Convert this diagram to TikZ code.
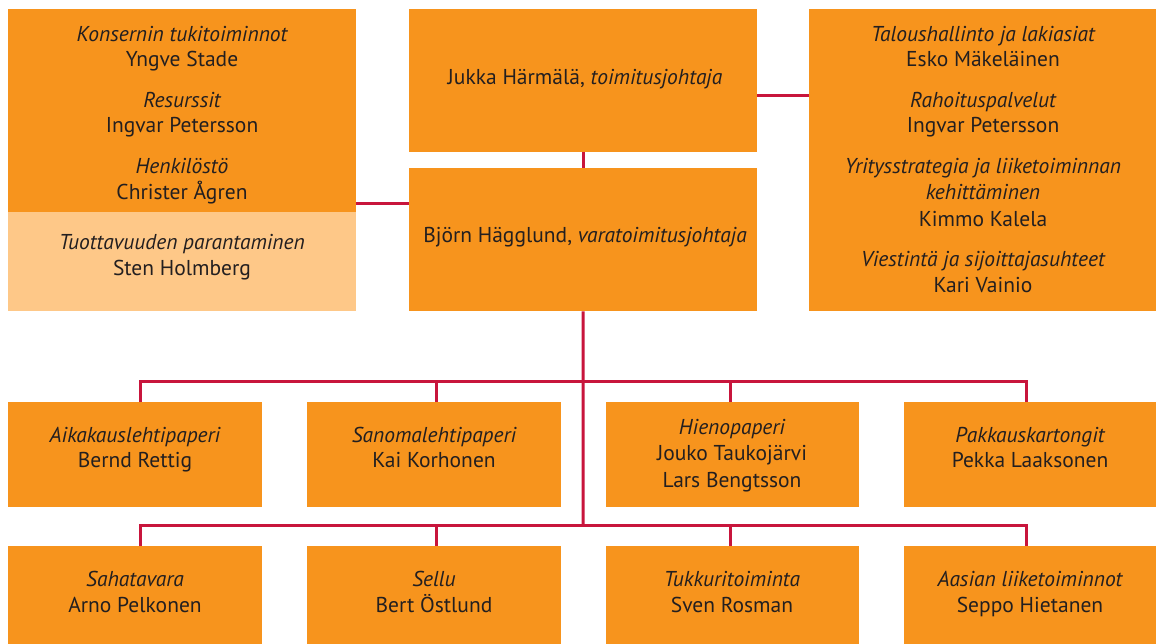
\documentclass[tikz,border=0pt]{standalone}
\usepackage{fontspec}
\setmainfont{PT Sans}
\definecolor{boxorange}{HTML}{F7941D}
\definecolor{boxlight}{HTML}{FEC888}
\definecolor{linkred}{HTML}{C8153C}
\definecolor{txt}{HTML}{231F20}
\begin{document}
\begin{tikzpicture}[x=1pt,y=-1pt,
  box/.style={fill=boxorange,draw=none,inner sep=0pt,anchor=north west,rectangle},
  lightbox/.style={box,fill=boxlight},
  tl/.style={anchor=base,inner sep=0pt,text=txt,font=\fontsize{21.5}{25}\selectfont},
  conn/.style={draw=linkred,line width=3pt,line join=miter,line cap=butt}]
\useasboundingbox (0,0) rectangle (1156,644);
\clip (0,0) rectangle (1156,644);
\fill[white] (0,0) rectangle (1156,644);
% boxes
\node[box,minimum width=348pt,minimum height=203pt] (supp) at (8,9) {};
\node[lightbox,minimum width=348pt,minimum height=99pt] (prod) at (8,212) {};
\node[box,minimum width=348pt,minimum height=143pt] (ceo) at (409,9) {};
\node[box,minimum width=348pt,minimum height=143pt] (vp) at (409,168) {};
\node[box,minimum width=352pt,minimum height=302pt] (fin) at (809,9) {};
\node[box,minimum width=254pt,minimum height=105pt] (r1a) at (8,402) {};
\node[box,minimum width=254pt,minimum height=105pt] (r1b) at (307,402) {};
\node[box,minimum width=253pt,minimum height=105pt] (r1c) at (606,402) {};
\node[box,minimum width=256pt,minimum height=105pt] (r1d) at (904,402) {};
\node[box,minimum width=254pt,minimum height=105pt] (r2a) at (8,546) {};
\node[box,minimum width=254pt,minimum height=105pt] (r2b) at (307,546) {};
\node[box,minimum width=253pt,minimum height=105pt] (r2c) at (606,546) {};
\node[box,minimum width=256pt,minimum height=105pt] (r2d) at (904,546) {};
% texts
\node[tl] (s1) at (182,42) {\itshape Konsernin tukitoiminnot};
\node[tl] (s2) at (182,67) {Yngve Stade};
\node[tl] (s3) at (182,108) {\itshape Resurssit};
\node[tl] (s4) at (182,133) {Ingvar Petersson};
\node[tl] (s5) at (182,174) {\itshape Henkilöstö};
\node[tl] (s6) at (182,200) {Christer Ågren};
\node[tl] (p1) at (182,250) {\itshape Tuottavuuden parantaminen};
\node[tl] (p2) at (182,276) {Sten Holmberg};
\node[tl] (c1) at (585,85) {Jukka Härmälä, \textit{toimitusjohtaja}};
\node[tl] (v1) at (585,243) {Björn Hägglund, \textit{varatoimitusjohtaja}};
\node[tl] (f1) at (983,42) {\itshape Taloushallinto ja lakiasiat};
\node[tl] (f2) at (983,67) {Esko Mäkeläinen};
\node[tl] (f3) at (983,108) {\itshape Rahoituspalvelut};
\node[tl] (f4) at (983,133) {Ingvar Petersson};
\node[tl] (f5) at (983,174) {\itshape Yritysstrategia ja liiketoiminnan};
\node[tl] (f6) at (983,200) {\itshape kehittäminen};
\node[tl] (f7) at (983,227) {Kimmo Kalela};
\node[tl] (f8) at (983,267) {\itshape Viestintä ja sijoittajasuhteet};
\node[tl] (f9) at (983,293) {Kari Vainio};
\node[tl] (a1) at (135,442) {\itshape Aikakauslehtipaperi};
\node[tl] (a2) at (135,467) {Bernd Rettig};
\node[tl] (b1) at (434,442) {\itshape Sanomalehtipaperi};
\node[tl] (b2) at (434,467) {Kai Korhonen};
\node[tl] (h1) at (732,434) {\itshape Hienopaperi};
\node[tl] (h2) at (732,460) {Jouko Taukojärvi};
\node[tl] (h3) at (732,487) {Lars Bengtsson};
\node[tl] (k1) at (1030,442) {\itshape Pakkauskartongit};
\node[tl] (k2) at (1030,467) {Pekka Laaksonen};
\node[tl] (sa1) at (135,586) {\itshape Sahatavara};
\node[tl] (sa2) at (135,612) {Arno Pelkonen};
\node[tl] (se1) at (434,586) {\itshape Sellu};
\node[tl] (se2) at (434,612) {Bert Östlund};
\node[tl] (tu1) at (732,586) {\itshape Tukkuritoiminta};
\node[tl] (tu2) at (732,612) {Sven Rosman};
\node[tl] (as1) at (1030,586) {\itshape Aasian liiketoiminnot};
\node[tl] (as2) at (1030,612) {Seppo Hietanen};
% connectors
\coordinate (busA) at (583,381);
\coordinate (busB) at (583,525);
\coordinate (d1) at (140,381);
\coordinate (d2) at (436,381);
\coordinate (d3) at (730,381);
\coordinate (d4) at (1026,381);
\coordinate (e1) at (140,525);
\coordinate (e2) at (436,525);
\coordinate (e3) at (730,525);
\coordinate (e4) at (1026,525);
\draw[conn] (ceo.south) -- (vp.north);
\draw[conn] ([yshift=9pt]supp.south east) -- ([yshift=9pt]supp.south east -| vp.west);
\draw[conn] ([yshift=-14.5pt]ceo.east) -- ([yshift=-14.5pt]ceo.east -| fin.west);
\draw[conn] (vp.south) -- (busB);
\draw[conn] (d1 |- r1a.north) -- (d1) -- (d4) -- (d4 |- r1d.north);
\draw[conn] (d2) -- (d2 |- r1b.north);
\draw[conn] (d3) -- (d3 |- r1c.north);
\draw[conn] (e1 |- r2a.north) -- (e1) -- (e4) -- (e4 |- r2d.north);
\draw[conn] (e2) -- (e2 |- r2b.north);
\draw[conn] (e3) -- (e3 |- r2c.north);
\end{tikzpicture}
\end{document}
